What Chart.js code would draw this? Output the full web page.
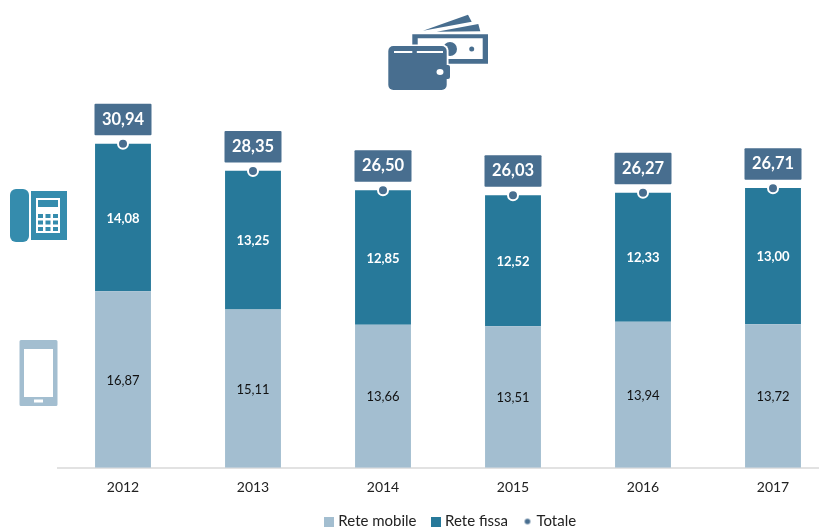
<!DOCTYPE html>
<html>
<head>
<meta charset="utf-8">
<style>
html,body{margin:0;padding:0;background:#fff;overflow:hidden;width:819px;height:530px}
#wrap{position:relative;width:819px;height:530px;overflow:hidden}
#box{position:absolute;left:0;top:0;width:902px;height:530px}
#icons{position:absolute;left:0;top:0;pointer-events:none}
</style>
<script src="https://cdn.jsdelivr.net/npm/chart.js@4"></script>
</head>
<body>
<div id="wrap">
<div id="box"><canvas id="c" width="902" height="530"></canvas></div>
<svg id="icons" width="819" height="530" viewBox="0 0 819 530">
  <g fill="#486E8F">
    <path d="M423 30.7 L468 14.7 L471.7 21.7 Z"/>
    <path d="M436.7 31.7 L478.3 24 L480.3 31.3 Z"/>
    <path fill-rule="evenodd" d="M412.3 34.3 H488 V63.7 H412.3 Z M417.7 38.3 H482.7 V59 H417.7 Z"/>
    <circle cx="450" cy="49" r="7"/>
    <circle cx="471.7" cy="49" r="2.5"/>
    <rect x="386.5" y="44.5" width="62" height="47" rx="6" fill="#fff"/>
    <rect x="388.3" y="46" width="58.4" height="44" rx="5"/>
    <rect x="440" y="65" width="10" height="14" rx="2"/>
    <rect x="394" y="51" width="49" height="2" fill="#fff"/>
    <rect x="412.3" y="46" width="4.5" height="8"/>
    <ellipse cx="440" cy="72" rx="3.5" ry="3" fill="#fff"/>
  </g>
  <g fill="#358CAD">
    <rect x="10" y="189" width="19" height="53" rx="6"/>
    <path fill-rule="evenodd" d="M31 191 H67 V240 H31 Z M36 198 V233 H60 V198 Z"/>
    <rect x="36" y="198" width="24" height="35" fill="#fff"/>
    <rect x="38" y="200" width="20" height="7"/>
    <rect x="38" y="214" width="5" height="4"/><rect x="45.5" y="214" width="5" height="4"/><rect x="53" y="214" width="5" height="4"/>
    <rect x="38" y="220.5" width="5" height="4"/><rect x="45.5" y="220.5" width="5" height="4"/><rect x="53" y="220.5" width="5" height="4"/>
    <rect x="38" y="227" width="5" height="4"/><rect x="45.5" y="227" width="5" height="4"/><rect x="53" y="227" width="5" height="4"/>
  </g>
  <g fill="#A3BED0">
    <path fill-rule="evenodd" d="M21 340 H56 Q57.5 340 57.5 341.5 V404.5 Q57.5 406 56 406 H21 Q19.5 406 19.5 404.5 V341.5 Q19.5 340 21 340 Z M24 349 V397 H53 V349 Z"/>
    <rect x="34" y="399.5" width="9" height="3" fill="#fff"/>
  </g>
</svg>
</div>
<script>
const years = ['2012','2013','2014','2015','2016','2017'];
const reteMobile = [16.87,15.11,13.66,13.51,13.94,13.72];
const reteFissa = [14.08,13.25,12.85,12.52,12.33,13.00];
const totale = [30.94,28.35,26.50,26.03,26.27,26.71];
const legendNames = ['Rete mobile','Rete fissa','Totale'];

const COL_MOBILE='#A3BED0', COL_FISSA='#27799A', COL_TOTAL='#486E8F';
const FONT='Lato, Carlito, sans-serif';
const fmt=v=>v.toFixed(2).replace('.',',');

function swatch(color,round){
  const s=document.createElement('canvas');s.width=10;s.height=10;
  const g=s.getContext('2d');g.fillStyle=color;
  if(round){g.beginPath();g.arc(5,5,2.8,0,Math.PI*2);g.fill();}
  else g.fillRect(0,0,10,10);
  return s;
}
const swatches=[swatch(COL_MOBILE),swatch(COL_FISSA),swatch(COL_TOTAL,true)];

const labelsPlugin={
  id:'valueLabels',
  afterLayout(chart){
    chart.legend.left+=4;chart.legend.right+=4;
  },
  afterDatasetsDraw(chart){
    const ctx=chart.ctx;
    ctx.save();
    ctx.textAlign='center';ctx.textBaseline='middle';
    [[0,reteMobile,'#111','400'],[1,reteFissa,'#fff','700']].forEach(([di,vals,col,w])=>{
      chart.getDatasetMeta(di).data.forEach((bar,i)=>{
        ctx.fillStyle=col;ctx.font=w+' 13px '+FONT;
        ctx.fillText(fmt(vals[i]),bar.x,(bar.y+bar.base)/2+1);
      });
    });
    chart.getDatasetMeta(2).data.forEach((pt,i)=>{
      const w=57,h=31.5,bottom=pt.y-8.5;
      ctx.fillStyle=COL_TOTAL;
      ctx.beginPath();ctx.roundRect(pt.x-w/2,bottom-h,w,h,1);ctx.fill();
      ctx.fillStyle='#fff';ctx.font='700 16.5px '+FONT;
      ctx.fillText(fmt(totale[i]),pt.x,bottom-h/2);
    });
    ctx.restore();
  }
};

new Chart(document.getElementById('c'),{
  data:{
    labels:years,
    datasets:[
      {type:'bar',label:legendNames[0],data:reteMobile,backgroundColor:COL_MOBILE,stack:'s',barPercentage:1,categoryPercentage:0.43,order:2},
      {type:'bar',label:legendNames[1],data:reteFissa,backgroundColor:COL_FISSA,stack:'s',barPercentage:1,categoryPercentage:0.43,order:2},
      {type:'line',label:legendNames[2],data:totale,stack:'t',showLine:false,pointStyle:'circle',pointRadius:5,pointBackgroundColor:COL_TOTAL,pointBorderColor:'#fff',pointBorderWidth:2,order:1}
    ]
  },
  options:{
    responsive:false,animation:false,
    layout:{padding:{left:58,right:64,top:49,bottom:-9}},
    scales:{
      x:{stacked:true,grid:{display:false},border:{color:'#E2E2E2',width:2},
         ticks:{color:'#222',font:{family:FONT,size:14},padding:3,maxRotation:0},
         afterFit(s){s.height=28.2;}},
      y:{stacked:true,display:false,min:0,max:40}
    },
    plugins:{
      tooltip:{enabled:false},
      legend:{position:'bottom',
        labels:{usePointStyle:true,boxWidth:3,boxHeight:10,padding:18,color:'#222',font:{family:FONT,size:15},
          sort:(a,b)=>a.datasetIndex-b.datasetIndex,
          generateLabels(chart){
            return Chart.defaults.plugins.legend.labels.generateLabels(chart).map(it=>({...it,pointStyle:swatches[it.datasetIndex],lineWidth:0}));
          }}
      }
    }
  },
  plugins:[labelsPlugin]
});
</script>
</body>
</html>
